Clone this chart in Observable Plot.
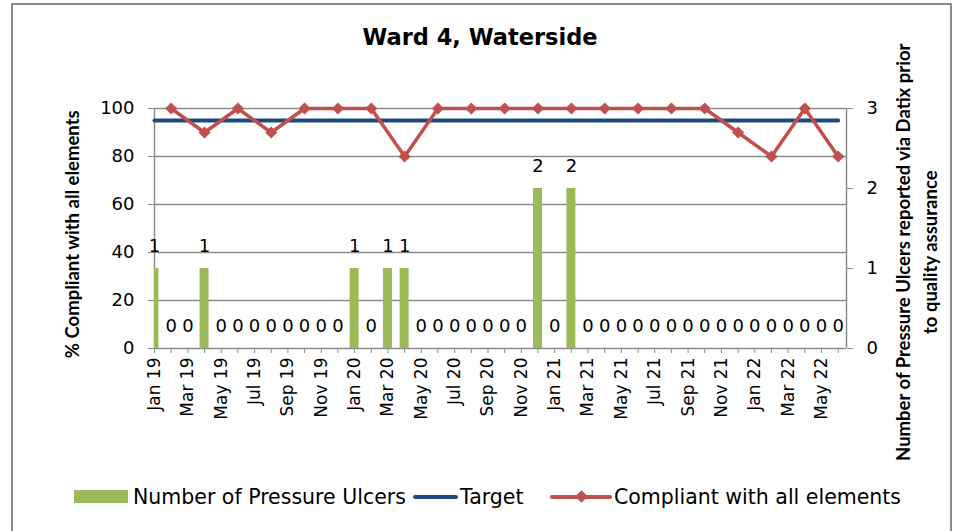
<!DOCTYPE html>
<html><head><meta charset="utf-8">
<script src="https://cdn.jsdelivr.net/npm/d3@7"></script>
<script src="https://cdn.jsdelivr.net/npm/@observablehq/plot@0.6"></script>
<style>
html,body{margin:0;padding:0;background:#fff;}
#wrap{position:relative;width:955px;height:531px;overflow:hidden;font-family:"DejaVu Sans",sans-serif;color:#000;}
#frame{position:absolute;left:11px;top:3px;width:941px;height:600px;border:2px solid #8c8c8c;box-sizing:border-box;}
#title{position:absolute;left:0;width:960px;top:23px;text-align:center;font-weight:bold;font-size:22.5px;line-height:28px;}
#chart{position:absolute;left:0;top:60px;}
.rot{position:absolute;transform:rotate(-90deg);transform-origin:50% 50%;text-align:center;white-space:nowrap;font-family:Lato,sans-serif;font-weight:bold;}
.lg{position:absolute;}
.lt{position:absolute;top:484px;font-size:20.5px;line-height:26px;white-space:nowrap;}
</style>
</head><body>
<div id="wrap">
  <div id="frame"></div>
  <div id="title"></div>
  <div id="chart"></div>
  <div id="ytitleL" class="rot"></div>
  <div id="ytitleR1" class="rot"></div>
  <div id="ytitleR2" class="rot"></div>
  <div id="legend"></div>
</div>
<script>
// ---- data ----
const months = ["Jan 19","Feb 19","Mar 19","Apr 19","May 19","Jun 19","Jul 19","Aug 19","Sep 19","Oct 19","Nov 19","Dec 19",
  "Jan 20","Feb 20","Mar 20","Apr 20","May 20","Jun 20","Jul 20","Aug 20","Sep 20","Oct 20","Nov 20","Dec 20",
  "Jan 21","Feb 21","Mar 21","Apr 21","May 21","Jun 21","Jul 21","Aug 21","Sep 21","Oct 21","Nov 21","Dec 21",
  "Jan 22","Feb 22","Mar 22","Apr 22","May 22","Jun 22"];
const pressureUlcers = [1,0,0,1,0,0,0,0,0,0,0,0,
  1,0,1,1,0,0,0,0,0,0,0,2,
  0,2,0,0,0,0,0,0,0,0,0,0,
  0,0,0,0,0,0];
const compliant = [null,100,null,90,null,100,null,90,null,100,null,100,
  null,100,null,80,null,100,null,100,null,100,null,100,
  null,100,null,100,null,100,null,100,null,100,null,90,
  null,80,null,100,null,80];
const targetValue = 95;
const leftTicks = [0,20,40,60,80,100];
const rightTicks = [0,1,2,3];
const rightMax = 3;
const titleText = "Ward 4, Waterside";
const leftTitle = "% Compliant with all elements";
const rightTitle = ["Number of Pressure Ulcers reported via Datix prior", "to quality assurance"];
const seriesNames = ["Number of Pressure Ulcers", "Target", "Compliant with all elements"];
const colors = {bars: "#9BBB59", target: "#1F497D", comp: "#C0504D", grid: "#8c8c8c"};

// ---- derived tables ----
const xMax = months.length - 0.5;
const toLeft = v => v * 100 / rightMax;
const barData = pressureUlcers.map((c, i) => ({i, c}));
const targetData = months.map((m, i) => ({i, v: targetValue}));
const compData = compliant.map((v, i) => ({i, v})).filter(d => d.v != null);

const chart = Plot.plot({
  width: 955, height: 410,
  marginLeft: 154, marginRight: 109, marginTop: 48, marginBottom: 122,
  x: {type: "linear", domain: [0, xMax]},
  y: {domain: [0, 100]},
  style: {fontFamily: "DejaVu Sans, sans-serif", fontSize: "17px", color: "#000", background: "transparent"},
  marks: [
    Plot.ruleY(leftTicks, {stroke: colors.grid, strokeWidth: 1.5}),
    Plot.ruleX([0, xMax], {stroke: colors.grid, strokeWidth: 1.5}),
    Plot.rect(barData, {x1: d => d.i - 0.27, x2: d => d.i + 0.27, y1: () => 0, y2: d => toLeft(d.c), fill: colors.bars, clip: true}),
    Plot.text(barData, {x: "i", y: d => toLeft(d.c), text: d => String(d.c), dy: -22, fontSize: 18, fill: "#000"}),
    Plot.lineY(targetData, {x: "i", y: "v", stroke: colors.target, strokeWidth: 4}),
    Plot.line(compData, {x: "i", y: "v", stroke: colors.comp, strokeWidth: 3.5}),
    Plot.dot(compData, {x: "i", y: "v", symbol: "diamond2", r: 5.5, fill: colors.comp}),
    Plot.axisY({anchor: "left", ticks: leftTicks, tickSize: 6, tickPadding: 14, stroke: colors.grid, fill: "#000", fontSize: 18, label: null}),
    Plot.axisY({anchor: "right", ticks: rightTicks.map(toLeft), tickFormat: d => String(Math.round(d * rightMax / 100)), tickSize: 6, tickPadding: 14, stroke: colors.grid, fill: "#000", fontSize: 18, label: null}),
    Plot.axisX({ticks: d3.range(months.length), tickFormat: i => i % 2 === 0 ? months[i] : "", tickRotate: -90, tickSize: 5, tickPadding: 4, stroke: colors.grid, fill: "#000", fontSize: 17, label: null})
  ]
});
document.getElementById("chart").appendChild(chart);

document.getElementById("title").textContent = titleText;

function placeRot(id, text, cx, cy, w, fs) {
  const el = document.getElementById(id);
  el.textContent = text;
  el.style.width = w + "px";
  el.style.fontSize = fs + "px";
  el.style.lineHeight = (fs + 4) + "px";
  el.style.left = (cx - w / 2) + "px";
  el.style.top = (cy - (fs + 4) / 2) + "px";
}
placeRot("ytitleL", leftTitle, 72, 234, 320, 18.5);
placeRot("ytitleR1", rightTitle[0], 903, 252, 520, 18.5);
placeRot("ytitleR2", rightTitle[1], 930, 252, 300, 18.5);

// legend
const lg = document.getElementById("legend");
lg.innerHTML = `
  <div class="lg" style="left:74px;top:490px;width:54px;height:13px;background:${colors.bars}"></div>
  <div class="lt" style="left:133px">${seriesNames[0]}</div>
  <div class="lg" style="left:413px;top:495px;width:45px;height:4px;border-radius:2px;background:${colors.target}"></div>
  <div class="lt" style="left:460px">${seriesNames[1]}</div>
  <div class="lg" style="left:550px;top:495px;width:62px;height:4px;border-radius:2px;background:${colors.comp}"></div>
  <div class="lg" style="left:577px;top:492px;width:9px;height:9px;transform:rotate(45deg);background:${colors.comp}"></div>
  <div class="lt" style="left:614px">${seriesNames[2]}</div>`;
</script>
</body></html>
